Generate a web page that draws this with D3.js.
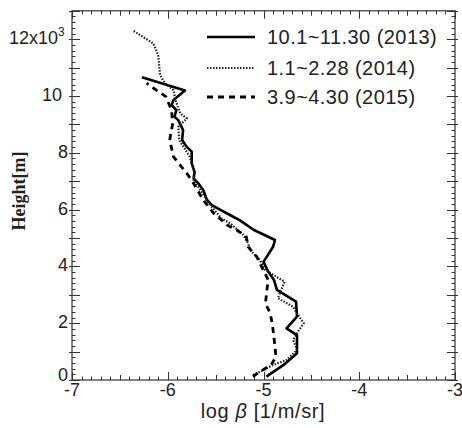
<!DOCTYPE html>
<html><head><meta charset="utf-8">
<script src="https://cdn.jsdelivr.net/npm/d3@7"></script>
<style>body{margin:0;background:#fff;}svg{display:block;font-family:"Liberation Sans","DejaVu Sans",sans-serif;}</style>
</head><body>
<svg id="c" width="462" height="428"></svg>
<script>
// Series: heights in km (x10^3 m), log beta values
const h2013 = [0.12,0.53,0.94,1.58,1.82,2.23,2.76,3.17,3.52,3.81,4.16,4.69,4.93,5.28,5.63,5.81,5.99,6.16,6.34,6.69,6.92,7.10,7.33,7.63,8.04,8.20,8.45,8.80,9.15,9.27,9.50,9.68,9.86,10.19,10.66];
const v2013 = [-4.97,-4.79,-4.65,-4.65,-4.76,-4.65,-4.66,-4.86,-4.89,-4.95,-5.00,-4.90,-4.88,-5.10,-5.25,-5.35,-5.45,-5.54,-5.59,-5.63,-5.68,-5.73,-5.72,-5.75,-5.75,-5.80,-5.85,-5.84,-5.89,-5.93,-5.91,-5.96,-5.94,-5.82,-6.27];
const h2014 = [0.18,0.35,0.53,0.70,1.06,1.41,1.70,2.00,2.35,2.58,2.88,3.46,3.87,4.23,4.58,4.81,5.11,5.52,5.69,6.10,6.28,6.69,7.04,7.27,7.86,8.45,8.92,9.21,9.39,9.86,10.21,10.45,10.74,11.44,11.85,12.32];
const v2014 = [-5.11,-5.00,-4.90,-4.76,-4.65,-4.69,-4.64,-4.58,-4.65,-4.69,-4.85,-4.78,-4.98,-5.04,-5.14,-5.16,-5.21,-5.35,-5.44,-5.54,-5.58,-5.66,-5.73,-5.72,-5.77,-5.88,-5.89,-5.80,-5.87,-5.92,-5.94,-6.03,-6.08,-6.10,-6.15,-6.37];
const h2015 = [0.12,0.29,0.53,0.82,1.17,1.76,2.00,2.35,2.70,2.99,3.29,3.52,3.99,4.34,4.69,5.05,5.28,5.46,5.87,6.34,7.04,7.27,7.86,8.45,9.00,9.50,9.98,10.21,10.45];
const v2015 = [-5.11,-5.04,-4.92,-4.87,-4.88,-4.90,-4.91,-4.93,-4.98,-4.97,-4.96,-4.95,-5.02,-5.07,-5.16,-5.18,-5.28,-5.38,-5.52,-5.63,-5.75,-5.80,-5.94,-5.98,-5.95,-5.96,-6.02,-6.12,-6.22];
const seriesNames = ["10.1~11.30 (2013)","1.1~2.28 (2014)","3.9~4.30 (2015)"];
const xTickLabels = ["-7","-6","-5","-4","-3"];
const xTickValues = [-7,-6,-5,-4,-3];
const yTickValues = [0,2,4,6,8,10,12];
const yTickLabels = ["0","2","4","6","8","10","12x10"];

const svg = d3.select("#c");
const x = d3.scaleLinear().domain([-7,-3]).range([72,455]);
const y = d3.scaleLinear().domain([0,13]).range([380,10.8]);
const L = x.range()[0], R = x.range()[1], B = y.range()[0], T = y.range()[1];
const axisCol = "#333";

// frame
svg.append("rect").attr("x",L).attr("y",T).attr("width",R-L).attr("height",B-T)
  .attr("fill","none").attr("stroke",axisCol).attr("stroke-width",1.2);

// x ticks (bottom and top)
const g = svg.append("g").attr("stroke",axisCol).attr("stroke-width",1);
d3.range(-70,-29).forEach(k=>{
  const v=k/10, px=Math.round(x(v))+0.5;
  const len = (k%10===0)?8:((k%5===0)?5:3.5);
  g.append("line").attr("x1",px).attr("x2",px).attr("y1",B).attr("y2",B-len);
  g.append("line").attr("x1",px).attr("x2",px).attr("y1",T).attr("y2",T+len);
});
// y ticks (left and right)
d3.range(0,66).forEach(k=>{
  const v=k/5, py=Math.round(y(v))+0.5;
  if (v>13) return;
  const major = (k%5===0);
  const len = major?8:3.5;
  g.append("line").attr("x1",L).attr("x2",L+len).attr("y1",py).attr("y2",py);
  g.append("line").attr("x1",R).attr("x2",R-len).attr("y1",py).attr("y2",py);
  if (major){
    g.append("line").attr("x1",L).attr("x2",L-3).attr("y1",py).attr("y2",py);
    g.append("line").attr("x1",R).attr("x2",R+3).attr("y1",py).attr("y2",py);
  }
});

// x tick labels
svg.append("g").selectAll("text").data(xTickValues).join("text")
  .attr("x",d=>x(d)).attr("y",396).attr("text-anchor","middle")
  .attr("font-size",18).attr("fill","#222")
  .text((d,i)=>xTickLabels[i]);
// y tick labels
svg.append("g").selectAll("text").data(yTickValues).join("text")
  .attr("x",d=>d===12?58:(d===10?62:68)).attr("y",d=>d===0?y(d)+0.5:y(d)+5).attr("text-anchor","end")
  .attr("font-size",18).attr("fill","#222")
  .text((d,i)=>yTickLabels[i]);
svg.append("text").attr("x",58).attr("y",y(12)-3).attr("font-size",12).attr("fill","#222").text("3");

// axis titles
const xt = svg.append("text").attr("x",263).attr("y",418).attr("text-anchor","middle")
  .attr("font-size",20).attr("letter-spacing",0.6).attr("fill","#222");
xt.append("tspan").text("log ");
xt.append("tspan").attr("font-style","italic").text("β");
xt.append("tspan").text(" [1/m/sr]");
svg.append("text").attr("transform","translate(25,191) rotate(-90)")
  .attr("text-anchor","middle").attr("font-family","Liberation Serif, serif")
  .attr("font-weight","bold").attr("font-size",18).attr("fill","#222").text("Height[m]");

// lines
const line = d3.line().x(d=>x(d[1])).y(d=>y(d[0]));
const styles = [
  {h:h2013,v:v2013,w:2.6,dash:null,col:"#000"},
  {h:h2014,v:v2014,w:2.2,dash:"1.5,1.5",col:"#222"},
  {h:h2015,v:v2015,w:2.8,dash:"6,5",col:"#000"}
];
styles.forEach(s=>{
  const pts = s.h.map((hh,i)=>[hh,s.v[i]]);
  const p = svg.append("path").datum(pts).attr("d",line).attr("fill","none")
    .attr("stroke",s.col).attr("stroke-width",s.w).attr("stroke-linejoin","round");
  if (s.dash) p.attr("stroke-dasharray",s.dash);
});

// legend
const legY = [37,68,97];
styles.forEach((s,i)=>{
  const l = svg.append("line").attr("x1",207).attr("x2",255).attr("y1",legY[i]).attr("y2",legY[i])
    .attr("stroke",s.col).attr("stroke-width",s.w);
  if (s.dash) l.attr("stroke-dasharray",s.dash);
  svg.append("text").attr("x",267).attr("y",legY[i]+7).attr("font-size",20).attr("letter-spacing",0.45).attr("fill","#222")
    .text(seriesNames[i]);
});
</script>
</body></html>
